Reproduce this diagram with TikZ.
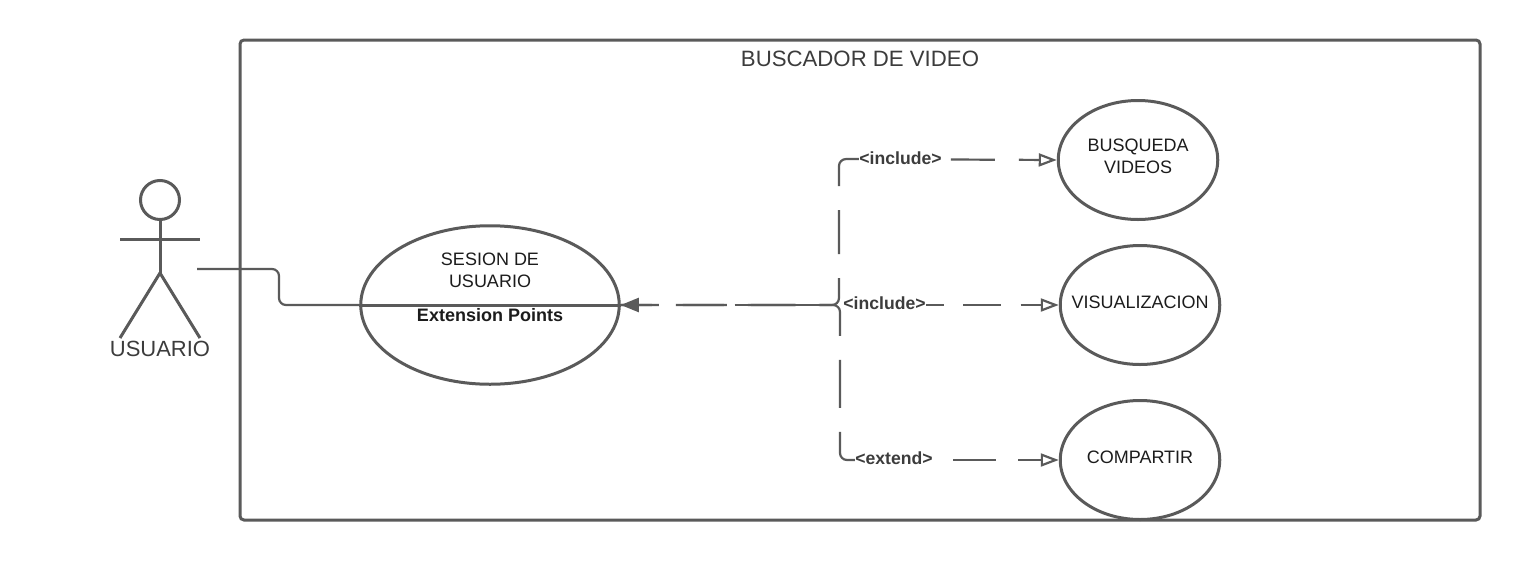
\documentclass[tikz,border=0pt]{standalone}
\usepackage{fontspec}
\setmainfont{Liberation Sans}
\usetikzlibrary{shapes.geometric,arrows.meta}
\definecolor{ln}{HTML}{5A5A5A}
\definecolor{tx}{HTML}{1C1C1C}
\definecolor{tg}{HTML}{3C3C3C}
\tikzset{
  x=1pt,y=-1pt,
  frameline/.style={draw=ln,line width=3pt,rounded corners=4pt},
  usecase/.style={shape=ellipse,draw=ln,line width=3pt,inner sep=0pt,minimum width=159.5pt,minimum height=119pt},
  stick/.style={draw=ln,line width=3pt},
  txt/.style={text=tx,font=\fontsize{18}{21.6}\selectfont,inner sep=0pt,align=center},
  big/.style={text=tg,font=\fontsize{22.2}{26}\selectfont,inner sep=0pt},
  bold/.style={text=tg,font=\fontsize{17.6}{21}\selectfont\bfseries,inner sep=0pt,fill=white},
  conn/.style={draw=ln,line width=2.2pt,rounded corners=7pt},
  opentip/.style={-{Triangle[open,length=18pt,width=13pt,fill=white,line width=2.2pt]}},
}
\begin{document}
\begin{tikzpicture}
\useasboundingbox (0,0) rectangle (1520,560);
\fill[white] (0,0) rectangle (1520,560);
% system frame
\node[frameline,minimum width=1240pt,minimum height=480pt,inner sep=0pt] (frame) at (860,280) {};
\node[big] (title) at (860,59) {BUSCADOR DE VIDEO};
% actor
\node[shape=circle,draw=ln,line width=3pt,minimum size=39pt,inner sep=0pt] (head) at (160,200) {};
\coordinate (hip) at (160,273);
\coordinate (armL) at (120,239);
\coordinate (armR) at (200,239);
\coordinate (footL) at (120,338);
\coordinate (footR) at (200,338);
\coordinate (actorEnd) at (197,269);
\draw[stick] (head.south) -- (hip);
\draw[stick] (armL) -- (armR);
\draw[stick,line join=round] (footL) -- (hip) -- (footR);
\node[big,font=\fontsize{22}{26}\selectfont] (actorname) at (160,349) {USUARIO};
% use cases
\node[usecase,minimum width=258.5pt,minimum height=158.5pt] (sesion) at (490,305) {};
\node[usecase] (busqueda) at (1138,160) {};
\node[usecase] (visual) at (1140,305) {};
\node[usecase] (compartir) at (1140,460) {};
% association
\draw[draw=ln,line width=2.2pt,rounded corners=7pt] (actorEnd) -| (279,305) -- (sesion.west);
% compartment line
\draw[draw=ln,line width=3pt] (sesion.west) -- (sesion.east);
% dependencies
\coordinate (extendJoin) at (858,460);
\draw[conn,opentip,dash pattern=on 44pt off 24pt,dash phase=6pt]
  (sesion.east) -- (839,305) -- (839,159) -- (busqueda.west);
\draw[conn,-,dash pattern=on 48pt off 24pt,dash phase=17pt]
  (sesion.east) -- (840,305) -- (840,460) -- (extendJoin);
\draw[conn,opentip,dash pattern=on 43pt off 22pt,dash phase=35pt]
  (extendJoin) -- (compartir.west);
\draw[conn,{Triangle[length=18pt,width=14pt,fill=ln]}-{Triangle[open,length=18pt,width=13pt,fill=white,line width=2.2pt]},dash pattern=on 38pt off 19.2pt,dash phase=18pt]
  (sesion.east) -- (visual.west);
% labels
\node[txt] (t1) at (490,270.5) {SESION DE\\USUARIO};
\node[bold,fill=none,text=tx,font=\fontsize{18}{21}\selectfont\bfseries] (t2) at (490,315) {Extension Points};
\node[txt] (t3) at (1138,156.5) {BUSQUEDA\\VIDEOS};
\node[txt] (t4) at (1140,302.5) {VISUALIZACION};
\node[txt] (t5) at (1140,457) {COMPARTIR};
\node[bold] (l1) at (900.5,158) {<include>};
\node[bold] (l2) at (884.5,303) {<include>};
\node[bold] (l3) at (894,458) {<extend>};
\end{tikzpicture}
\end{document}
